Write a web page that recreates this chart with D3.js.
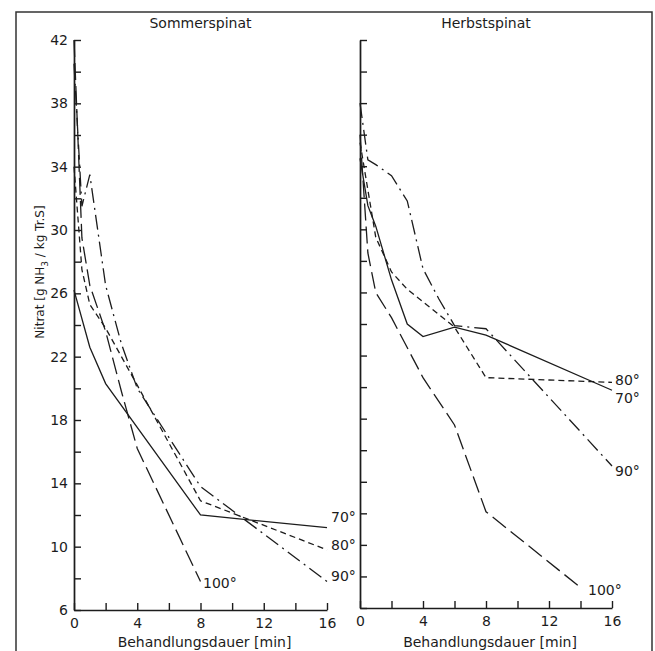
<!DOCTYPE html>
<html>
<head>
<meta charset="utf-8">
<script src="https://cdn.jsdelivr.net/npm/d3@7"></script>
<style>
  body { margin: 0; background: #fff; }
  text { font-family: "DejaVu Sans", "Liberation Sans", sans-serif; fill: #1c1c1c; }
</style>
</head>
<body>
<div id="chart"></div>
<script>
// values: [minutes, nitrate]
var sommer70  = [[0, 26.2], [1, 22.6], [2, 20.3], [8, 12.0], [16, 11.2]];
var sommer80  = [[0, 34], [0.5, 27.5], [1, 25.3], [2, 23.8], [4, 20.2], [8, 12.9], [16, 9.8]];
var sommer90  = [[0, 40.5], [0.5, 31.5], [1, 33.5], [2, 26.5], [3, 22.8], [4, 20.0], [8, 13.8], [16, 7.8]];
var sommer100 = [[0, 42], [0.5, 29.5], [1, 26.5], [2, 23.6], [3, 19.8], [4, 16.2], [8, 7.8]];

var herbst70  = [[0, 34.5], [0.5, 31.5], [1, 30.2], [2, 26.8], [3, 24.0], [4, 23.2], [6, 23.8], [8, 23.3], [16, 19.8]];
var herbst80  = [[0, 35.5], [0.5, 32.5], [1, 29.5], [2, 27.3], [3, 26.2], [4, 25.4], [6, 23.8], [8, 20.6], [16, 20.3]];
var herbst90  = [[0, 38], [0.5, 34.4], [1, 34.1], [2, 33.4], [3, 31.8], [4, 27.5], [5, 25.6], [6, 23.9], [8, 23.7], [16, 15.0]];
var herbst100 = [[0, 36], [0.5, 28.5], [1, 26.0], [2, 24.4], [4, 20.6], [6, 17.6], [8, 12.1], [14, 7.3]];

var yMajor = [6, 10, 14, 18, 22, 26, 30, 34, 38, 42];
var yMinor = [8, 12, 16, 20, 24, 28, 32, 36, 40];
var xTicks = [0, 2, 4, 6, 8, 10, 12, 14, 16];

var svg = d3.select("#chart").append("svg")
    .attr("width", 655)
    .attr("height", 651);

// frame of the scanned figure
svg.append("rect")
    .attr("x", 16).attr("y", 12)
    .attr("width", 636).attr("height", 660)
    .style("fill", "none")
    .style("stroke", "#333")
    .style("stroke-width", 1.5);

var dashes = {
    "70": null,
    "80": "6,4",
    "90": "15,5,2,5",
    "100": "17,6"
};

var panels = [
    {title: "Sommerspinat", left: 74, right: 327, bottom: 610, labels: true,
     series: [
        {name: "70", data: sommer70, lx: 331, ly: 522},
        {name: "80", data: sommer80, lx: 331, ly: 550},
        {name: "90", data: sommer90, lx: 331, ly: 581},
        {name: "100", data: sommer100, lx: 203, ly: 588}
     ]},
    {title: "Herbstspinat", left: 360, right: 612, bottom: 608, labels: false,
     series: [
        {name: "70", data: herbst70, lx: 615, ly: 403},
        {name: "80", data: herbst80, lx: 615, ly: 385},
        {name: "90", data: herbst90, lx: 615, ly: 476},
        {name: "100", data: herbst100, lx: 588, ly: 595}
     ]}
];

panels.forEach(function (p) {
    var x = d3.scaleLinear().domain([0, 16]).range([p.left, p.right]);
    var y = d3.scaleLinear().domain([6, 42]).range([p.bottom, 40]);

    // y axis, ticks pointing inward
    var gy = svg.append("g")
        .attr("transform", "translate(" + p.left + ",0)")
        .call(d3.axisLeft(y).tickValues(yMajor).tickSizeInner(-7).tickSizeOuter(0).tickPadding(6)
            .tickFormat(function (d) { return p.labels ? d : ""; }));
    var gy2 = svg.append("g")
        .attr("transform", "translate(" + p.left + ",0)")
        .call(d3.axisLeft(y).tickValues(yMinor).tickSizeInner(-7).tickSizeOuter(0).tickFormat(""));

    var gx = svg.append("g")
        .attr("transform", "translate(0," + p.bottom + ")")
        .call(d3.axisBottom(x).tickValues(xTicks).tickSizeInner(-7).tickSizeOuter(0).tickPadding(8)
            .tickFormat(function (d) { return d % 4 === 0 ? d : ""; }));

    [gy, gy2, gx].forEach(function (g) {
        g.selectAll("path, line").style("stroke", "#1c1c1c").style("stroke-width", 1.4);
        g.selectAll("text").style("font-size", "14px").style("fill", "#1c1c1c")
            .style("font-family", "DejaVu Sans, Liberation Sans, sans-serif");
    });

    svg.append("text")
        .attr("x", (p.left + p.right) / 2)
        .attr("y", 28)
        .attr("text-anchor", "middle")
        .style("font-size", "14px")
        .text(p.title);

    svg.append("text")
        .attr("x", (p.left + p.right) / 2 + 4)
        .attr("y", 647)
        .attr("text-anchor", "middle")
        .style("font-size", "14px")
        .text("Behandlungsdauer [min]");

    var line = d3.line()
        .x(function (d) { return x(d[0]); })
        .y(function (d) { return y(d[1]); });

    p.series.forEach(function (s) {
        svg.append("path")
            .attr("d", line(s.data))
            .style("fill", "none")
            .style("stroke", "#1c1c1c")
            .style("stroke-width", 1.3)
            .style("stroke-dasharray", dashes[s.name]);

        svg.append("text")
            .attr("x", s.lx)
            .attr("y", s.ly)
            .style("font-size", "14px")
            .text(s.name + "°");
    });
});

// y axis title
svg.append("text")
    .attr("transform", "translate(44,272) rotate(-90)")
    .attr("text-anchor", "middle")
    .style("font-size", "12px")
    .html("Nitrat [g NH<tspan dy='4' font-size='9px'>3</tspan><tspan dy='-4'> / kg Tr.S]</tspan>");
</script>
</body>
</html>
